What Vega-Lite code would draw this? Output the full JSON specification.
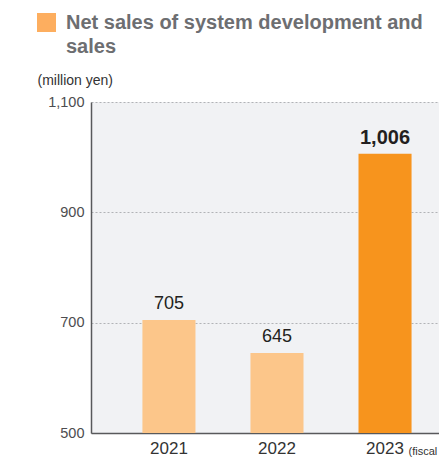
{
  "$schema": "https://vega.github.io/schema/vega-lite/v6.json",
  "width": 348,
  "height": 331,
  "autosize": {"type": "none"},
  "padding": {"left": 91, "top": 102, "right": 0, "bottom": 26},
  "background": "white",
  "config": {
    "view": {"fill": "#f1f2f4", "stroke": null},
    "font": "Liberation Sans"
  },
  "title": {
    "text": ["Net sales of system development and", "sales"],
    "anchor": "start",
    "frame": "group",
    "dx": -25,
    "fontSize": 20,
    "fontWeight": "bold",
    "color": "#6d6e71",
    "lineHeight": 24,
    "offset": -44
  },
  "data": {
    "values": [
      {"year": "2021", "sales": 705, "series": "Net sales of system development and sales"},
      {"year": "2022", "sales": 645, "series": "Net sales of system development and sales"},
      {"year": "2023", "sales": 1006, "series": "Net sales of system development and sales"}
    ]
  },
  "encoding": {
    "x": {
      "field": "year",
      "type": "ordinal",
      "scale": {"paddingInner": 0.509, "paddingOuter": 0.365, "align": 0.652},
      "axis": {
        "labelAngle": 0,
        "ticks": false,
        "domainColor": "#58595b",
        "domainWidth": 1.5,
        "labelFontSize": 17,
        "labelColor": "#333333",
        "labelPadding": 7,
        "title": "(fiscal year)",
        "titleX": 317,
        "titleY": 18,
        "titleAlign": "left",
        "titleBaseline": "middle",
        "titleAnchor": null,
        "titleFontSize": 11,
        "titleFontWeight": "normal",
        "titleColor": "#333333"
      }
    },
    "y": {
      "field": "sales",
      "type": "quantitative",
      "scale": {"domain": [500, 1100], "nice": false, "zero": false},
      "axis": {
        "values": [500, 700, 900, 1100],
        "format": ",.0f",
        "ticks": false,
        "grid": true,
        "gridDash": [2, 2],
        "gridColor": "#b1b3b6",
        "gridWidth": 1,
        "domainColor": "#58595b",
        "domainWidth": 1.5,
        "labelFontSize": 14.5,
        "labelColor": "#4d4d4f",
        "labelPadding": 7,
        "title": "(million yen)",
        "titleAngle": 0,
        "titleX": -54,
        "titleY": -22,
        "titleAlign": "left",
        "titleBaseline": "middle",
        "titleFontSize": 14,
        "titleFontWeight": "normal",
        "titleColor": "#333333"
      }
    }
  },
  "layer": [
    {
      "mark": {"type": "bar"},
      "encoding": {
        "y2": {"datum": 500},
        "color": {
          "field": "series",
          "type": "nominal",
          "scale": {"range": ["#fdae5f"]},
          "condition": [
            {"test": "datum.year == '2023'", "value": "#f7941d"},
            {"test": "datum.year != '2023'", "value": "#fcc68a"}
          ],
          "legend": {
            "orient": "none",
            "legendX": -54,
            "legendY": -89,
            "title": null,
            "labelExpr": "''",
            "symbolType": "square",
            "symbolSize": 361,
            "symbolStrokeWidth": 0,
            "padding": 0
          }
        }
      }
    },
    {
      "transform": [{"filter": "datum.year != '2023'"}],
      "mark": {"type": "text", "baseline": "bottom", "dy": -7, "fontSize": 18, "color": "#231f20"},
      "encoding": {
        "text": {"field": "sales", "format": ","}
      }
    },
    {
      "transform": [{"filter": "datum.year == '2023'"}],
      "mark": {"type": "text", "baseline": "bottom", "dy": -6, "fontSize": 20, "fontWeight": "bold", "color": "#231f20"},
      "encoding": {
        "text": {"field": "sales", "format": ","}
      }
    }
  ]
}
